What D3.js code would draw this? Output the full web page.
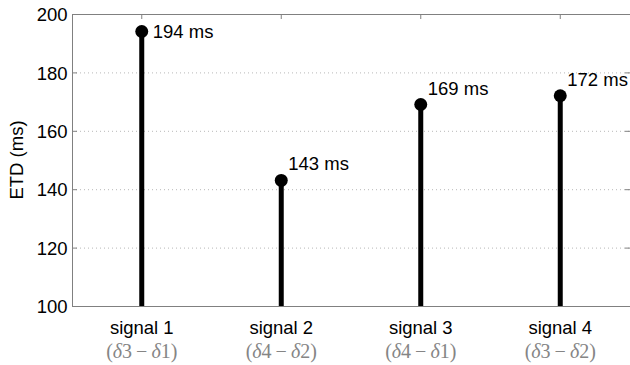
<!DOCTYPE html>
<html><head><meta charset="utf-8">
<script src="https://cdn.jsdelivr.net/npm/d3@7"></script>
<style>body{margin:0;background:#fff}svg{display:block}</style>
</head><body>
<svg id="c" width="630" height="365"></svg>
<script>
const categories = ["signal 1", "signal 2", "signal 3", "signal 4"];
const subLabels = [["3","1"],["4","2"],["4","1"],["3","2"]];
const values = [194, 143, 169, 172];
const valueLabels = ["194 ms", "143 ms", "169 ms", "172 ms"];
const yTicks = [100, 120, 140, 160, 180, 200];

const svg = d3.select("#c");
const L = 72, R = 630, T = 14, B = 306;
const x = d3.scaleLinear().domain([0.5, 4.5]).range([L, R]);
const y = d3.scaleLinear().domain([100, 200]).range([B, T]);
const font = "'Liberation Sans', Arial, sans-serif";
const fs = 18.5;

// gridlines
svg.append("g").selectAll("line").data(yTicks.filter(t => t > 100 && t < 200)).join("line")
  .attr("x1", L).attr("x2", R).attr("y1", d => y(d) + 0.5).attr("y2", d => y(d) + 0.5)
  .attr("stroke", "#b8b8b8").attr("stroke-dasharray", "1,3").attr("stroke-width", 1);

// box
const box = svg.append("g").attr("stroke", "#808080").attr("stroke-width", 1).attr("fill", "none");
box.append("rect").attr("x", L + 0.5).attr("y", T + 0.5).attr("width", R - L + 5).attr("height", B - T);

// y axis
const yAx = svg.append("g").attr("transform", `translate(${L + 0.5},0)`)
  .call(d3.axisLeft(y).tickValues(yTicks).tickSize(0).tickPadding(5).tickFormat(d3.format("d")));
yAx.select(".domain").remove();
yAx.selectAll("text").attr("font-family", font).attr("font-size", fs).attr("fill", "#000").attr("dy", "0.36em");
// inward ticks left and right
svg.append("g").selectAll("line").data(yTicks).join("line")
  .attr("x1", L).attr("x2", L + 5).attr("y1", d => y(d) + 0.5).attr("y2", d => y(d) + 0.5)
  .attr("stroke", "#808080");
svg.append("g").selectAll("line").data(yTicks).join("line")
  .attr("x1", R - 5).attr("x2", R).attr("y1", d => y(d) + 0.5).attr("y2", d => y(d) + 0.5)
  .attr("stroke", "#808080");
// top ticks
svg.append("g").selectAll("line").data(categories).join("line")
  .attr("x1", (d, i) => x(i + 1)).attr("x2", (d, i) => x(i + 1)).attr("y1", T).attr("y2", T + 5)
  .attr("stroke", "#808080");

// y label
svg.append("text").attr("transform", `translate(23,${(T + B) / 2}) rotate(-90)`)
  .attr("text-anchor", "middle").attr("font-family", font).attr("font-size", fs).text("ETD (ms)");

// stems
svg.append("g").selectAll("line").data(values).join("line")
  .attr("x1", (d, i) => x(i + 1)).attr("x2", (d, i) => x(i + 1))
  .attr("y1", y(100)).attr("y2", d => y(d))
  .attr("stroke", "#000").attr("stroke-width", 5);
svg.append("g").selectAll("circle").data(values).join("circle")
  .attr("cx", (d, i) => x(i + 1)).attr("cy", d => y(d)).attr("r", 6.5).attr("fill", "#000");

// value labels
svg.append("g").selectAll("text").data(values).join("text")
  .attr("x", (d, i) => x(i + 1) + (i === 0 ? 11 : 7))
  .attr("y", (d, i) => y(d) + (i === 0 ? 6.5 : -10))
  .attr("font-family", font).attr("font-size", fs).attr("fill", "#000")
  .text((d, i) => valueLabels[i]);

// x labels
const xl = svg.append("g").selectAll("g").data(categories).join("g")
  .attr("transform", (d, i) => `translate(${x(i + 1)},0)`);
xl.append("text").attr("y", 334).attr("text-anchor", "middle")
  .attr("font-family", font).attr("font-size", fs).attr("fill", "#000").text(d => d);
const sub = xl.append("text").attr("y", 358).attr("text-anchor", "middle")
  .attr("font-family", "'Liberation Serif', 'DejaVu Serif', serif").attr("font-size", 20).attr("fill", "#858585");
sub.each(function(d, i) {
  const t = d3.select(this);
  const s = subLabels[i];
  t.append("tspan").text("(");
  t.append("tspan").attr("font-style", "italic").text("δ");
  t.append("tspan").text(s[0] + "\u2009−\u2009");
  t.append("tspan").attr("font-style", "italic").text("δ");
  t.append("tspan").text(s[1] + ")");
});
</script>
</body></html>
